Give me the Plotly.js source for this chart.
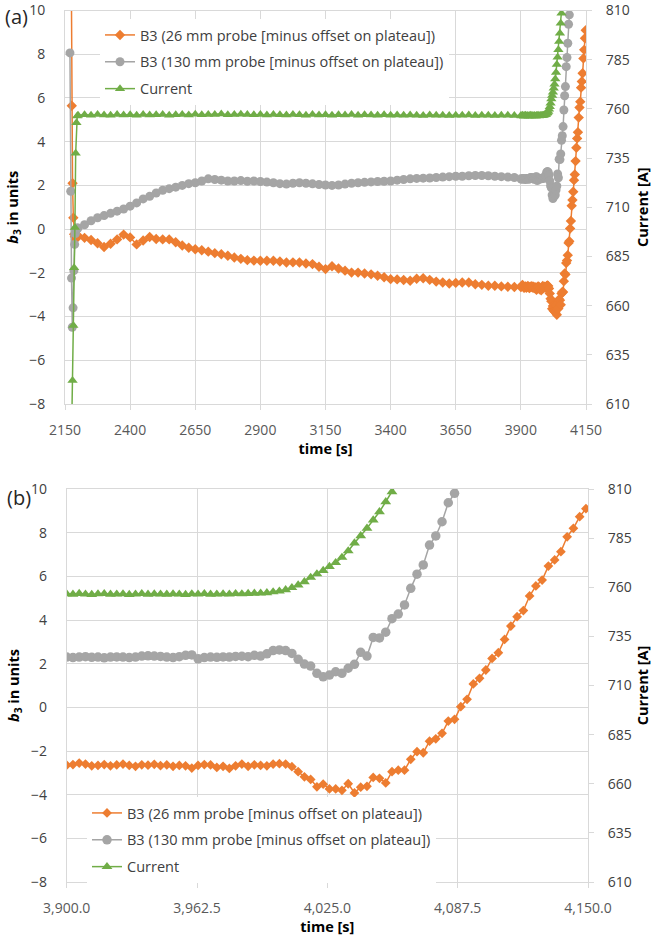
<!DOCTYPE html>
<html>
<head>
<meta charset="utf-8">
<script src="https://cdn.plot.ly/plotly-3.0.1.min.js"></script>
<style>html,body{margin:0;padding:0;background:#fff;}#chart{width:652px;height:942px;}</style>
</head>
<body>
<div id="chart"></div>
<script>
// ---------- DATA ----------
const seriesNames = [
  'B3 (26 mm probe [minus offset on plateau])',
  'B3 (130 mm probe [minus offset on plateau])',
  'Current'
];

// ramp-up transient at the start (panel a only)
const orangeStartTime = [2173, 2176, 2179, 2182, 2185, 2188, 2191, 2194, 2197];
const orangeStart     = [14, 5.64, 2.1, 0.52, -0.23, -0.35, -0.45, -0.4, -0.35];
const grayStartTime   = [2169, 2172, 2175, 2178, 2181, 2184, 2187, 2190, 2193, 2196];
const grayStart       = [8.06, 1.73, -2.24, -4.49, -3.6, -1.9, -0.7, -0.2, 0.0, 0.05];
const greenStartTime  = [2176, 2179, 2182, 2185, 2188, 2191, 2194, 2197];
const greenStart      = [600, 621.9, 649.9, 679.3, 699.7, 737.4, 752.9, 756.4];

// plateau (panel a), every 25 s
const coarseTime = [
  2200,2225,2250,2275,2300,2325,2350,2375,2400,2425,
  2450,2475,2500,2525,2550,2575,2600,2625,2650,2675,
  2700,2725,2750,2775,2800,2825,2850,2875,2900,2925,
  2950,2975,3000,3025,3050,3075,3100,3125,3150,3175,
  3200,3225,3250,3275,3300,3325,3350,3375,3400,3425,
  3450,3475,3500,3525,3550,3575,3600,3625,3650,3675,
  3700,3725,3750,3775,3800,3825,3850,3875
];
const orangeCoarse = [
  -0.3,-0.4,-0.5,-0.65,-0.82,-0.67,-0.47,-0.25,-0.38,-0.7,
  -0.52,-0.36,-0.45,-0.47,-0.47,-0.6,-0.75,-0.85,-0.92,-0.97,
  -1.03,-1.1,-1.15,-1.22,-1.3,-1.36,-1.42,-1.44,-1.45,-1.45,
  -1.45,-1.48,-1.53,-1.52,-1.53,-1.57,-1.6,-1.72,-1.83,-1.7,
  -1.8,-1.9,-1.99,-1.99,-2.03,-2.07,-2.13,-2.2,-2.29,-2.3,
  -2.33,-2.36,-2.27,-2.25,-2.32,-2.4,-2.44,-2.49,-2.46,-2.44,
  -2.44,-2.52,-2.55,-2.59,-2.59,-2.62,-2.64,-2.65
];
const grayCoarse = [
  0.05,0.2,0.38,0.52,0.62,0.72,0.82,0.92,1.05,1.2,
  1.38,1.5,1.65,1.78,1.85,1.92,2.0,2.08,2.12,2.2,
  2.3,2.27,2.24,2.2,2.2,2.22,2.19,2.2,2.18,2.15,
  2.12,2.08,2.06,2.1,2.12,2.1,2.07,2.04,2.02,2.0,
  2.02,2.06,2.1,2.12,2.14,2.16,2.18,2.19,2.2,2.24,
  2.27,2.3,2.32,2.33,2.34,2.36,2.38,2.4,2.42,2.42,
  2.44,2.45,2.45,2.44,2.42,2.4,2.38,2.36
];
const greenCoarse = [
  756.8,757.0,756.7,757.1,756.9,756.8,757.2,756.9,757.0,756.8,
  757.1,756.9,757.0,757.2,756.8,757.0,757.1,756.9,757.3,757.0,
  757.2,757.1,757.4,757.0,757.2,757.3,757.1,757.0,757.2,756.9,
  757.1,757.0,756.9,757.2,757.0,756.8,757.1,756.9,757.0,756.8,
  757.0,756.9,757.1,756.8,757.0,756.9,756.7,757.0,756.8,756.9,
  756.7,756.9,756.8,756.6,756.9,756.7,756.8,756.6,756.8,756.7,
  756.9,756.6,756.8,756.7,756.6,756.8,756.7,756.6
];

// end of plateau and ramp, sampled every 3 s (panel b, and end of panel a)
const fineTime = [
  3900,3903,3906,3909,3912,3915,3918,3921,3924,3927,
  3930,3933,3936,3939,3942,3945,3948,3951,3954,3957,
  3960,3963,3966,3969,3972,3975,3978,3981,3984,3987,
  3990,3993,3996,3999,4002,4005,4008,4011,4014,4017,
  4020,4023,4026,4029,4032,4035,4038,4041,4044,4047,
  4050,4053,4056,4059,4062,4065,4068,4071,4074,4077,
  4080,4083,4086,4089,4092,4095,4098,4101,4104,4107,
  4110,4113,4116,4119,4122,4125,4128,4131,4134,4137,
  4140,4143,4146,4149
];
const orangeFine = [
  -2.65,-2.62,-2.55,-2.6,-2.68,-2.66,-2.62,-2.68,-2.64,-2.6,
  -2.66,-2.7,-2.63,-2.65,-2.61,-2.67,-2.64,-2.7,-2.66,-2.68,
  -2.78,-2.66,-2.62,-2.64,-2.75,-2.7,-2.8,-2.68,-2.6,-2.7,
  -2.63,-2.66,-2.68,-2.6,-2.58,-2.6,
  -2.72,-2.95,-3.18,-3.3,-3.64,-3.52,-3.74,-3.74,-3.8,-3.5,
  -3.92,-3.66,-3.62,-3.21,-3.25,-3.46,-2.95,-2.88,-2.88,-2.38,
  -2.03,-2.08,-1.55,-1.44,-1.19,-0.63,-0.55,0.03,0.37,1.07,
  1.33,1.71,2.24,2.5,3.11,3.72,4.15,4.43,5.1,5.56,
  5.83,6.47,6.75,7.13,7.81,8.2,8.73,9.1
];
const grayFine = [
  2.3,2.28,2.3,2.32,2.29,2.3,2.27,2.3,2.31,2.3,
  2.28,2.3,2.35,2.36,2.35,2.33,2.3,2.28,2.32,2.38,
  2.4,2.22,2.28,2.3,2.29,2.31,2.3,2.33,2.34,2.32,
  2.38,2.35,2.45,2.6,2.63,2.6,2.47,2.2,1.98,1.89,
  1.56,1.4,1.48,1.63,1.56,1.79,1.97,2.52,2.35,3.2,
  3.18,3.44,4.06,4.27,4.69,5.45,6.1,6.52,7.43,7.85,
  8.5,9.37,9.8,10.4
];
const greenFine = [
  756.6,756.4,756.8,756.5,756.3,756.6,756.7,756.4,756.5,756.6,
  756.3,756.5,756.7,756.4,756.6,756.5,756.4,756.6,756.5,756.3,
  756.6,756.5,756.7,756.4,756.5,756.6,756.5,756.7,756.6,756.8,
  756.9,757.0,757.2,757.6,758.0,758.7,759.8,761.1,762.8,765.0,
  766.8,768.5,770.5,772.5,775.2,778.5,782.5,786.2,790.0,794.2,
  798.4,803.5,808.6,814.0
];

// ---------- STYLE ----------
const W = 652, H = 942;
const px = v => v / W, py = v => 1 - v / H;
const FONT = 'Open Sans, Noto Sans, sans-serif';
const C_OR = '#ED7D31', C_GR = '#A5A5A5', C_GN = '#70AD47';
const GRID = '#d9d9d9';

function seriesTraces(xs, ys, xa, ya, ya2, leg, sizes) {
  const specs = [
    {c: C_OR, s: 'diamond', axis: ya},
    {c: C_GR, s: 'circle', axis: ya},
    {c: C_GN, s: 'triangle-up', axis: ya2}
  ];
  return specs.map((sp, k) => ({
    type: 'scatter', mode: 'lines+markers',
    x: xs[k], y: ys[k], name: seriesNames[k],
    xaxis: xa, yaxis: sp.axis, legend: leg, legendgroup: leg + k,
    line: {color: sp.c, width: 1.5},
    marker: {symbol: sp.s, size: sizes[k], color: sp.c, line: {width: 0}}
  }));
}

const tracesA = seriesTraces(
  [orangeStartTime.concat(coarseTime, fineTime),
   grayStartTime.concat(coarseTime, fineTime.slice(0, grayFine.length)),
   greenStartTime.concat(coarseTime, fineTime.slice(0, greenFine.length))],
  [orangeStart.concat(orangeCoarse, orangeFine),
   grayStart.concat(grayCoarse, grayFine),
   greenStart.concat(greenCoarse, greenFine)],
  'x', 'y', 'y2', 'legend', [8, 9, 9]);
const tracesB = seriesTraces(
  [fineTime, fineTime.slice(0, grayFine.length), fineTime.slice(0, greenFine.length)],
  [orangeFine, grayFine, greenFine],
  'x2', 'y3', 'y4', 'legend2', [7.5, 9.5, 9.5]);

const tickFontX = {family: FONT, size: 14, color: '#595959'};
const tickFontY = {family: FONT, size: 14, color: '#404040'};
const titleFont = {family: FONT, size: 14.5, color: '#000000'};

function xAxis(dom, anchor, range, tick0, dtick, fmt) {
  return {domain: dom, anchor: anchor, range: range, tick0: tick0, dtick: dtick,
    tickformat: fmt, showgrid: true, gridcolor: GRID, gridwidth: 1,
    showline: true, linecolor: GRID, mirror: true, zeroline: false,
    ticks: 'outside', ticklen: 5, tickcolor: GRID, ticklabelstandoff: 8,
    ticklabeloverflow: 'allow',
    tickfont: tickFontX,
    title: {text: '<b>time [s]</b>', font: titleFont, standoff: 6}};
}
function yAxis(dom, anchor) {
  return {domain: dom, anchor: anchor, range: [-8, 10], tick0: 0, dtick: 2,
    showgrid: true, gridcolor: GRID, gridwidth: 1, showline: true, linecolor: GRID,
    mirror: true, zeroline: false, ticks: '', ticklabelstandoff: 16,
    ticklabeloverflow: 'allow',
    tickfont: tickFontY,
    title: {text: '<b><i>b</i><sub>3</sub> in units</b>', font: titleFont, standoff: 7}};
}
function y2Axis(over, anchor) {
  return {overlaying: over, anchor: anchor, side: 'right', range: [610, 810],
    tick0: 610, dtick: 25, showgrid: false, zeroline: false, showline: false,
    ticks: 'outside', ticklen: 5, tickcolor: GRID, ticklabelstandoff: 11,
    ticklabeloverflow: 'allow',
    tickfont: tickFontY,
    title: {text: '<b>Current [A]</b>', font: titleFont, standoff: 14}};
}

const legendCommon = {
  bgcolor: '#ffffff', borderwidth: 0, xanchor: 'left', yanchor: 'top',
  font: {family: FONT, size: 14.5, color: '#404040'},
  traceorder: 'grouped', tracegroupgap: 5, itemwidth: 30
};

const layout = {
  width: W, height: H,
  margin: {l: 0, r: 0, t: 0, b: 0},
  paper_bgcolor: '#ffffff', plot_bgcolor: '#ffffff',
  font: {family: FONT},
  showlegend: true,
  xaxis: xAxis([px(65), px(586)], 'y', [2150, 4150], 2150, 250, 'd'),
  yaxis: yAxis([py(404), py(10.5)], 'x'),
  yaxis2: y2Axis('y', 'x'),
  xaxis2: xAxis([px(66.7), px(588)], 'y3', [3900, 4150], 3900, 62.5, ',.1f'),
  yaxis3: yAxis([py(882), py(489)], 'x2'),
  yaxis4: y2Axis('y3', 'x2'),
  legend: Object.assign({}, legendCommon, {x: px(100), y: py(19)}),
  legend2: Object.assign({}, legendCommon, {x: px(87), y: py(797)}),
  annotations: [
    {text: '(a)', xref: 'paper', yref: 'paper', x: px(3), y: py(17),
     xanchor: 'left', yanchor: 'middle', showarrow: false,
     font: {family: FONT, size: 20, color: '#262626'}},
    {text: '(b)', xref: 'paper', yref: 'paper', x: px(5), y: py(497),
     xanchor: 'left', yanchor: 'middle', showarrow: false,
     font: {family: FONT, size: 20, color: '#262626'}}
  ]
};

Plotly.newPlot('chart', tracesA.concat(tracesB), layout, {displayModeBar: false, staticPlot: true});
</script>
</body>
</html>
